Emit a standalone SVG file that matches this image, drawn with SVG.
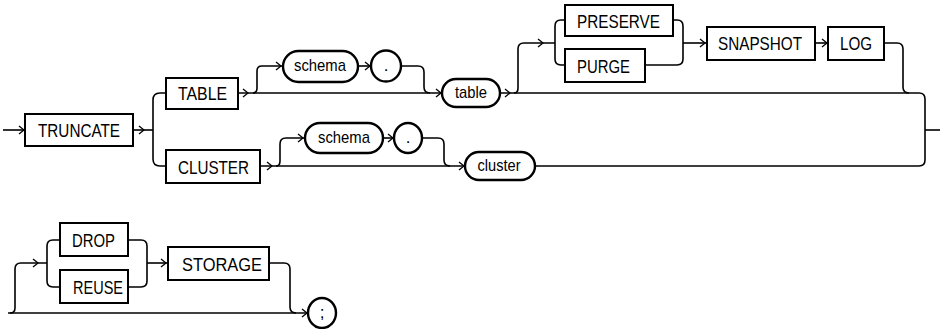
<svg xmlns="http://www.w3.org/2000/svg" xmlns:xlink="http://www.w3.org/1999/xlink" width="940" height="329" viewBox="0 0 940 329">
<style>
.bg{fill:#fff}
.kw rect{fill:#fff;stroke:#000;stroke-width:2}
.pl rect,.pl ellipse{fill:#fff;stroke:#000;stroke-width:2.4}
.ln{fill:none;stroke:#000;stroke-width:1.6;stroke-linejoin:round}
.ar{fill:none;stroke:#000;stroke-width:1.3}
text{font-family:"Liberation Sans Narrow","Liberation Sans",Arial,sans-serif;fill:#000;text-anchor:middle}
.kt{font-size:19px}
.vt{font-size:17px}
</style>
<defs>
<path id="a" d="M-5,-4 L0,0 L-5,4"/>
</defs>
<rect class="bg" x="0" y="0" width="940" height="329"/>
<g id="connectors" class="ln">
<path d="M3,130 H25"/>
<path d="M133,130 H153"/>
<path d="M166,93 H160 Q153,93 153,100 V159 Q153,166 160,166 H166"/>
<path d="M238,93 H442"/>
<path d="M253,93 Q257,93 257,88 V71 Q257,66 262,66 H283"/>
<path d="M358,66 H371"/>
<path d="M401,66 H418 Q424,66 424,72 V87 Q424,93 430,93"/>
<path d="M500,93 H919 Q925,93 925,99 V160 Q925,166 919,166 H535"/>
<path d="M925,130 H940"/>
<path d="M514,93 Q518,93 518,88 V49 Q518,43 524,43 H555"/>
<path d="M565,20 H561 Q555,20 555,26 V59 Q555,65 561,65 H565"/>
<path d="M673,20 H677 Q683,20 683,26 V59 Q683,65 677,65 H645"/>
<path d="M683,43 H707"/>
<path d="M815,43 H828"/>
<path d="M884,43 H897 Q903,43 903,49 V87 Q903,93 909,93"/>
<path d="M260,166 H465"/>
<path d="M276,166 Q280,166 280,161 V144 Q280,138 286,138 H305"/>
<path d="M383,138 H394"/>
<path d="M422,138 H438 Q444,138 444,144 V160 Q444,166 450,166"/>
<path d="M8,313 H308"/>
<path d="M10,313 Q15,313 15,308 V269 Q15,263 21,263 H47"/>
<path d="M60,240 H53 Q47,240 47,246 V281 Q47,287 53,287 H60"/>
<path d="M128,240 H141 Q147,240 147,246 V281 Q147,287 141,287 H128"/>
<path d="M147,263 H168"/>
<path d="M269,263 H284 Q290,263 290,269 V307 Q290,313 296,313"/>
<g class="ar">
<use xlink:href="#a" x="24" y="130"/>
<use xlink:href="#a" x="144" y="130"/>
<use xlink:href="#a" x="248" y="93"/>
<use xlink:href="#a" x="281" y="66"/>
<use xlink:href="#a" x="370" y="66"/>
<use xlink:href="#a" x="441" y="93"/>
<use xlink:href="#a" x="510" y="93"/>
<use xlink:href="#a" x="543" y="43"/>
<use xlink:href="#a" x="705" y="43"/>
<use xlink:href="#a" x="827" y="43"/>
<use xlink:href="#a" x="272" y="166"/>
<use xlink:href="#a" x="303" y="138"/>
<use xlink:href="#a" x="393" y="138"/>
<use xlink:href="#a" x="464" y="166"/>
<use xlink:href="#a" x="38" y="263"/>
<use xlink:href="#a" x="166" y="263"/>
<use xlink:href="#a" x="307" y="313"/>
</g>
</g>
<g id="truncate" class="kw"><rect x="25" y="114" width="108" height="32"/><text class="kt" x="79" y="137" textLength="82" lengthAdjust="spacingAndGlyphs">TRUNCATE</text></g>
<g id="table-kw" class="kw"><rect x="166" y="78" width="72" height="31"/><text class="kt" x="202.5" y="100" textLength="49" lengthAdjust="spacingAndGlyphs">TABLE</text></g>
<g id="cluster-kw" class="kw"><rect x="166" y="150" width="94" height="33"/><text class="kt" x="213.5" y="173.5" textLength="71" lengthAdjust="spacingAndGlyphs">CLUSTER</text></g>
<g id="schema1" class="pl"><rect x="283" y="51" width="75" height="31" rx="15.5"/><text class="vt" x="320" y="71" textLength="52" lengthAdjust="spacingAndGlyphs">schema</text></g>
<g id="dot1" class="pl"><ellipse cx="386" cy="66" rx="15" ry="15.5"/><text class="vt" x="386" y="71">.</text></g>
<g id="table" class="pl"><rect x="442" y="79" width="58" height="28" rx="14"/><text class="vt" x="471" y="98" textLength="32" lengthAdjust="spacingAndGlyphs">table</text></g>
<g id="preserve" class="kw"><rect x="565" y="5" width="108" height="31"/><text class="kt" x="618.5" y="27.5" textLength="83" lengthAdjust="spacingAndGlyphs">PRESERVE</text></g>
<g id="purge" class="kw"><rect x="565" y="49" width="80" height="33"/><text class="kt" x="603.5" y="72.5" textLength="53" lengthAdjust="spacingAndGlyphs">PURGE</text></g>
<g id="snapshot" class="kw"><rect x="707" y="27" width="108" height="33"/><text class="kt" x="760" y="50" textLength="84" lengthAdjust="spacingAndGlyphs">SNAPSHOT</text></g>
<g id="log" class="kw"><rect x="828" y="27" width="56" height="33"/><text class="kt" x="856" y="50" textLength="32" lengthAdjust="spacingAndGlyphs">LOG</text></g>
<g id="schema2" class="pl"><rect x="305" y="123" width="78" height="30" rx="15"/><text class="vt" x="344" y="143" textLength="52" lengthAdjust="spacingAndGlyphs">schema</text></g>
<g id="dot2" class="pl"><ellipse cx="408" cy="138" rx="14" ry="15"/><text class="vt" x="408" y="143">.</text></g>
<g id="cluster" class="pl"><rect x="465" y="152" width="70" height="28" rx="14"/><text class="vt" x="499" y="171" textLength="43" lengthAdjust="spacingAndGlyphs">cluster</text></g>
<g id="drop" class="kw"><rect x="60" y="223" width="68" height="33"/><text class="kt" x="93.5" y="246.5" textLength="43" lengthAdjust="spacingAndGlyphs">DROP</text></g>
<g id="reuse" class="kw"><rect x="60" y="270" width="68" height="33"/><text class="kt" x="98" y="293.5" textLength="50" lengthAdjust="spacingAndGlyphs">REUSE</text></g>
<g id="storage" class="kw"><rect x="168" y="247" width="101" height="33"/><text class="kt" x="222" y="270.5" textLength="80" lengthAdjust="spacingAndGlyphs">STORAGE</text></g>
<g id="semicolon" class="pl"><ellipse cx="322" cy="313" rx="14" ry="15"/><text class="vt" x="322" y="318">;</text></g>
</svg>
